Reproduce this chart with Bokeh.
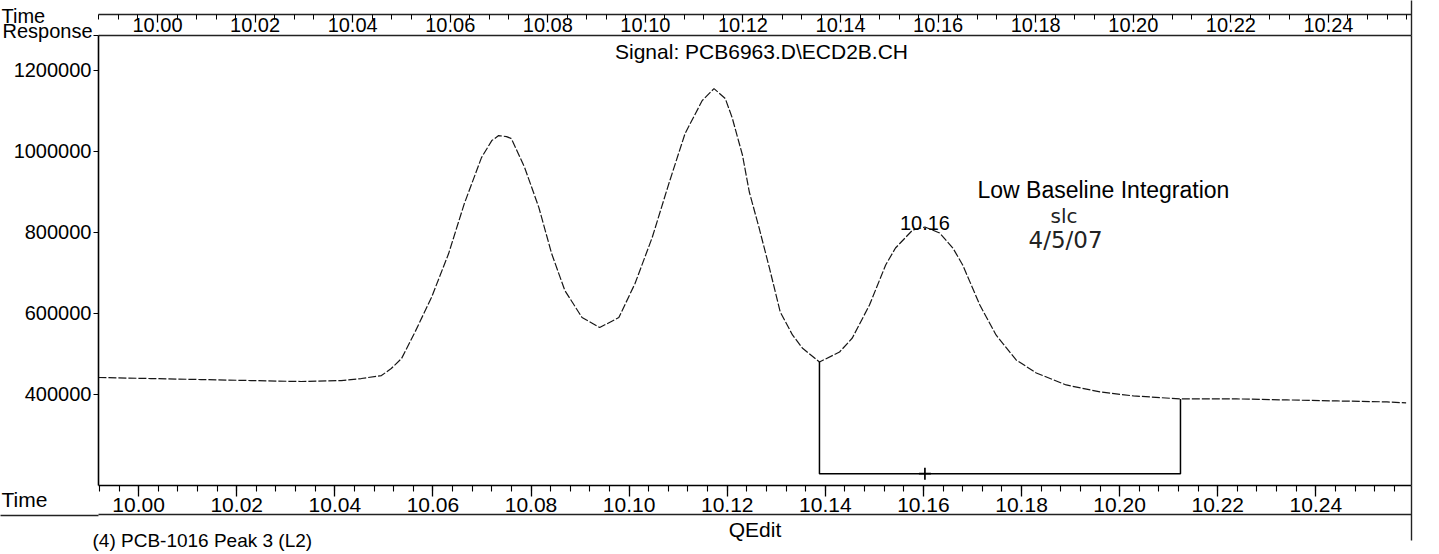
from bokeh.plotting import figure
from bokeh.models import (LinearAxis, Range1d, FixedTicker, SingleIntervalTicker,
                          PrintfTickFormatter, NumeralTickFormatter, CustomJSTickFormatter,
                          Label, ColumnDataSource)
from bokeh.core.properties import value
from bokeh.embed import file_html
from bokeh.resources import INLINE

# ---------------- data ----------------
time_min = [9.9918, 10.0025, 10.0127, 10.0229, 10.0331, 10.0413, 10.0454, 10.0495,
            10.0515, 10.0536, 10.0562, 10.0597, 10.0632, 10.0664, 10.0699, 10.0720,
            10.0734, 10.0750, 10.0760, 10.0787, 10.0816, 10.0842, 10.0869, 10.0904,
            10.0940, 10.0979, 10.1012, 10.1047, 10.1081, 10.1114, 10.1149, 10.1173,
            10.1196, 10.1210, 10.1231, 10.1245, 10.1265, 10.1286, 10.1308, 10.1333,
            10.1353, 10.1388, 10.1429, 10.1455, 10.1490, 10.1523, 10.1543, 10.1578,
            10.1603, 10.1633, 10.1660, 10.1680, 10.1715, 10.1748, 10.1789, 10.1830,
            10.1891, 10.1960, 10.2028, 10.2124, 10.2238, 10.2341, 10.2443, 10.2545,
            10.2584]
response = [440800, 438300, 435800, 433300, 430900, 433300, 438300, 445700,
            463000, 487700, 549600, 638500, 747300, 870900, 984600, 1026600,
            1039000, 1036500, 1031600, 959900, 861000, 747300, 655800, 589100,
            564400, 589100, 673200, 786900, 920400, 1044000, 1125600, 1155200,
            1130500, 1083500, 991000, 899500, 810600, 711700, 603000, 546100,
            513800, 479200, 503900, 538500, 620100, 719000, 761000, 805500,
            812900, 798100, 761000, 719000, 620100, 546000, 484200, 452100,
            422400, 405100, 395300, 387900, 387900, 385400, 382900, 380500,
            378000]

y_ticks = [400000, 600000, 800000, 1000000, 1200000]
x_tick_step = 0.02

peak_time = 10.1603
peak_response = 812900
peak_label = "10.16"

integ_start_time = 10.1388
integ_start_resp = 479200
integ_end_time = 10.2124
integ_end_resp = 387900
integ_low_baseline = 203000

signal_title = "Signal: PCB6963.D\\ECD2B.CH"
y_title = "Response"
x_title = "Time"
footer_title = "QEdit"
compound_title = "(4)  PCB-1016 Peak 3 (L2)"
note_text = "Low Baseline Integration"
initials_text = "slc"
date_text = "4/5/07"

FONT = "Liberation Sans"

# ---------------- geometry of the page (pixels) ----------------
W, H = 1439, 554
FL, FR, FT, FB = 98, 1411, 35, 485          # plot box edges
X0, X1 = 9.99182, 10.2595                  # time range of the plot box
Y0, Y1 = 173800, 1286500                   # response range of the plot box


def tx(px):
    return X0 + (px - FL) * (X1 - X0) / (FR - FL)


def vy(py):
    return Y1 - (py - FT) * (Y1 - Y0) / (FB - FT)


p = figure(width=W, height=H,
           x_range=Range1d(X0, X1), y_range=Range1d(Y0, Y1),
           output_backend="svg", toolbar_location=None,
           x_axis_location=None, y_axis_location=None,
           min_border_left=FL, min_border_right=W - FR, min_border_top=FT,
           min_border_bottom=H - FB)
p.outline_line_color = None
p.background_fill_color = "white"
p.border_fill_color = "white"
for g in p.grid:
    g.visible = False

p.extra_x_ranges = {"prev": Range1d(9.98791, 10.25702)}

# left axis
yaxis = LinearAxis(ticker=FixedTicker(ticks=y_ticks + [Y1 - 300], minor_ticks=[]),
                   formatter=NumeralTickFormatter(format="0"),
                   major_label_overrides={Y1 - 300: ""},
                   major_tick_out=5, major_tick_in=0, minor_tick_out=0, minor_tick_in=0,
                   major_label_standoff=2, major_label_text_font=FONT,
                   major_label_text_font_size="20px", major_label_text_color="black",
                   axis_line_width=1.6, axis_line_color="black", major_tick_line_width=1.2)
p.add_layout(yaxis, "left")

# right border
rax = LinearAxis(ticker=FixedTicker(ticks=[], minor_ticks=[]), axis_line_width=1.4,
                 axis_line_color="#222222", major_label_standoff=0)
p.add_layout(rax, "right")

# bottom time axis
xaxis = LinearAxis(ticker=SingleIntervalTicker(interval=x_tick_step, num_minor_ticks=5),
                   formatter=PrintfTickFormatter(format="%.2f"),
                   major_tick_out=11, major_tick_in=0, minor_tick_out=6, minor_tick_in=0,
                   major_label_standoff=1, major_label_text_font=FONT,
                   major_label_text_font_size="21px", major_label_text_color="black",
                   axis_line_width=1.5, axis_line_color="black",
                   major_tick_line_width=1.3, minor_tick_line_width=1.1)
p.add_layout(xaxis, "below")

# underline below the time axis, carrying the QEdit caption
under = LinearAxis(ticker=FixedTicker(ticks=[], minor_ticks=[]), axis_line_width=1.4,
                   axis_line_color="#222222", major_label_standoff=0,
                   major_tick_out=0, minor_tick_out=0,
                   axis_label=footer_title, axis_label_standoff=3,
                   axis_label_text_font=FONT, axis_label_text_font_size="21px",
                   axis_label_text_font_style="normal", axis_label_text_color="black")
p.add_layout(under, "below")

# top strip: time axis of the previous chromatogram on the page
prev_labels = LinearAxis(x_range_name="prev",
                         ticker=SingleIntervalTicker(interval=x_tick_step, num_minor_ticks=5),
                         formatter=PrintfTickFormatter(format="%.2f"),
                         axis_line_width=1.4, axis_line_color="#222222",
                         major_tick_out=0, major_tick_in=0, minor_tick_out=0, minor_tick_in=0,
                         major_label_standoff=4, major_label_text_font=FONT,
                         major_label_text_font_size="20px", major_label_text_color="black")
p.add_layout(prev_labels, "above")
prev_line = LinearAxis(x_range_name="prev",
                       ticker=SingleIntervalTicker(interval=x_tick_step, num_minor_ticks=5),
                       formatter=CustomJSTickFormatter(code="return ''"),
                       axis_line_width=1.4, axis_line_color="#222222",
                       major_tick_out=0, minor_tick_out=0, major_tick_in=8, minor_tick_in=5,
                       major_label_standoff=0, major_label_text_font_size="1px",
                       major_tick_line_width=1.2, minor_tick_line_width=1.0)
p.add_layout(prev_line, "above")

# chromatogram trace
src = ColumnDataSource(dict(t=time_min, r=response))
p.line("t", "r", source=src, line_color="#161616", line_width=1.2, line_dash="8 2")

# low-baseline integration box
p.line([integ_start_time, integ_start_time, integ_end_time, integ_end_time],
       [integ_start_resp, integ_low_baseline, integ_low_baseline, integ_end_resp],
       line_color="black", line_width=1.5)
p.scatter([peak_time], [integ_low_baseline], marker="cross", size=12,
          line_color="black", line_width=1.7)

# peak label
p.add_layout(Label(x=peak_time, y=peak_response, text=peak_label, text_align="center",
                   text_baseline="alphabetic", y_offset=4, text_font=FONT,
                   text_font_size="20px", text_color="black"))


def slabel(x, y, text, size="21px", align="left", font=FONT, color="black"):
    p.add_layout(Label(x=x - FL, y=FB - y, x_units="screen", y_units="screen", text=text,
                       text_align=align, text_baseline="alphabetic", text_font=font,
                       text_font_size=size, text_color=color))


slabel(761, 51, signal_title, align="center")
slabel(977, 189, note_text, size="23px")
slabel(1050, 215, initials_text, size="20px", font="DejaVu Sans", color="#222222")
slabel(1028, 239, date_text, size="23px", font="DejaVu Sans", color="#222222")

# texts outside the plot box (overlay level so they are not clipped to the box)
out_src = ColumnDataSource(dict(
    x=[tx(92), tx(1), tx(1), tx(92)],
    y=[vy(30), vy(15), vy(499), vy(540)],
    text=[y_title, x_title, x_title, compound_title],
    align=["right", "left", "left", "left"],
    size=["20px", "20px", "21px", "19px"],
))
p.text(x="x", y="y", text="text", source=out_src, text_align="align",
       text_font_size="size", text_baseline="alphabetic", text_font=value(FONT),
       text_color="black", level="overlay")

# right border continuing above and below the plot box; underline continuing left
p.segment(x0=[tx(FR), tx(FR), tx(0)], y0=[vy(FB), vy(FT), vy(515)],
          x1=[tx(FR), tx(FR), tx(FL)], y1=[vy(540), vy(0), vy(515)],
          line_color="#222222", line_width=1.4, level="overlay")

open("out.html", "w").write(file_html(p, INLINE))
